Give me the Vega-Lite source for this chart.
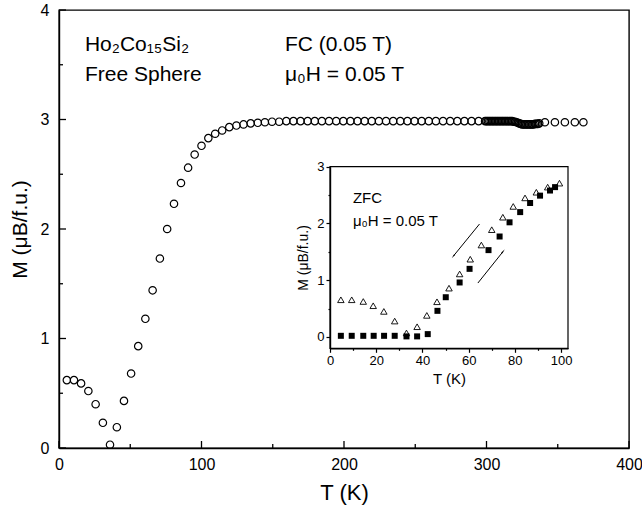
{
  "$schema": "https://vega.github.io/schema/vega-lite/v6.json",
  "width": 570,
  "height": 438,
  "autosize": {"type": "none"},
  "padding": {"left": 59, "top": 10, "right": 13, "bottom": 66},
  "config": {
    "font": "Liberation Sans",
    "view": {"stroke": "black", "strokeWidth": 1.4},
    "axis": {"grid": false, "domainColor": "black", "domainWidth": 1.4, "tickColor": "black", "tickWidth": 1.2, "labelColor": "black", "titleColor": "black", "titleFontWeight": "normal", "labelFlush": false, "labelOverlap": false, "format": "d"}
  },
  "datasets": {
    "fc": [
      {"T": 5.5, "M": 0.62}, {"T": 10.5, "M": 0.62}, {"T": 15.5, "M": 0.59}, {"T": 20.6, "M": 0.52},
      {"T": 25.7, "M": 0.40}, {"T": 30.8, "M": 0.23}, {"T": 35.8, "M": 0.03}, {"T": 40.6, "M": 0.19},
      {"T": 45.6, "M": 0.43}, {"T": 50.6, "M": 0.68}, {"T": 55.6, "M": 0.93}, {"T": 60.6, "M": 1.18},
      {"T": 65.7, "M": 1.44}, {"T": 70.8, "M": 1.73}, {"T": 75.9, "M": 2.00}, {"T": 80.7, "M": 2.23},
      {"T": 85.6, "M": 2.42}, {"T": 90.6, "M": 2.56}, {"T": 95.2, "M": 2.68}, {"T": 100.0, "M": 2.76},
      {"T": 104.8, "M": 2.83}, {"T": 109.6, "M": 2.87}, {"T": 114.5, "M": 2.90}, {"T": 119.5, "M": 2.93},
      {"T": 124.5, "M": 2.945}, {"T": 129.5, "M": 2.955}, {"T": 134.5, "M": 2.965}, {"T": 139.5, "M": 2.97},
      {"T": 144.5, "M": 2.975}, {"T": 149.5, "M": 2.98}, {"T": 154.5, "M": 2.98}, {"T": 159.5, "M": 2.985},
      {"T": 164.5, "M": 2.985}, {"T": 169.5, "M": 2.985}, {"T": 174.5, "M": 2.985}, {"T": 179.5, "M": 2.985},
      {"T": 184.5, "M": 2.985}, {"T": 189.5, "M": 2.985}, {"T": 194.5, "M": 2.985}, {"T": 199.5, "M": 2.985},
      {"T": 204.5, "M": 2.985}, {"T": 209.5, "M": 2.985}, {"T": 214.5, "M": 2.985}, {"T": 219.5, "M": 2.985},
      {"T": 224.5, "M": 2.985}, {"T": 229.5, "M": 2.985}, {"T": 234.5, "M": 2.985}, {"T": 239.5, "M": 2.985},
      {"T": 244.5, "M": 2.985}, {"T": 249.5, "M": 2.985}, {"T": 254.5, "M": 2.985}, {"T": 259.5, "M": 2.985},
      {"T": 264.5, "M": 2.985}, {"T": 269.5, "M": 2.985}, {"T": 274.5, "M": 2.985}, {"T": 279.5, "M": 2.985},
      {"T": 284.5, "M": 2.985}, {"T": 289.5, "M": 2.985}, {"T": 294.5, "M": 2.985},
      {"T": 299, "M": 2.985}, {"T": 300, "M": 2.985}, {"T": 301, "M": 2.985}, {"T": 302, "M": 2.985},
      {"T": 303, "M": 2.985}, {"T": 304, "M": 2.985}, {"T": 305, "M": 2.985}, {"T": 306, "M": 2.985},
      {"T": 307, "M": 2.985}, {"T": 308, "M": 2.985}, {"T": 309, "M": 2.985}, {"T": 310, "M": 2.985},
      {"T": 311, "M": 2.985}, {"T": 312, "M": 2.985}, {"T": 313, "M": 2.985}, {"T": 314, "M": 2.985},
      {"T": 315, "M": 2.985}, {"T": 316, "M": 2.985}, {"T": 317, "M": 2.985}, {"T": 318, "M": 2.985},
      {"T": 319, "M": 2.98}, {"T": 320, "M": 2.98}, {"T": 321, "M": 2.975}, {"T": 322, "M": 2.97},
      {"T": 323, "M": 2.965}, {"T": 324, "M": 2.96}, {"T": 325, "M": 2.955}, {"T": 326, "M": 2.955},
      {"T": 327, "M": 2.955}, {"T": 328, "M": 2.955}, {"T": 329, "M": 2.955}, {"T": 330, "M": 2.955},
      {"T": 331, "M": 2.955}, {"T": 332, "M": 2.955}, {"T": 333, "M": 2.955}, {"T": 334, "M": 2.96},
      {"T": 335, "M": 2.96}, {"T": 336, "M": 2.96}, {"T": 337, "M": 2.965},
      {"T": 341, "M": 2.975}, {"T": 348, "M": 2.975}, {"T": 355, "M": 2.975}, {"T": 362, "M": 2.975},
      {"T": 368, "M": 2.975}
    ],
    "xticks": [
      {"T": 0, "kind": "major"}, {"T": 50, "kind": "minor"}, {"T": 100, "kind": "major"}, {"T": 150, "kind": "minor"},
      {"T": 200, "kind": "major"}, {"T": 250, "kind": "minor"}, {"T": 300, "kind": "major"}, {"T": 350, "kind": "minor"},
      {"T": 400, "kind": "major"}
    ],
    "yticks": [
      {"M": 0, "kind": "major"}, {"M": 0.5, "kind": "minor"}, {"M": 1, "kind": "major"}, {"M": 1.5, "kind": "minor"},
      {"M": 2, "kind": "major"}, {"M": 2.5, "kind": "minor"}, {"M": 3, "kind": "major"}, {"M": 3.5, "kind": "minor"},
      {"M": 4, "kind": "major"}
    ],
    "notes": [
      {"T": 18.2, "M": 3.68, "text": "Ho₂Co₁₅Si₂"},
      {"T": 18.2, "M": 3.41, "text": "Free Sphere"},
      {"T": 158.6, "M": 3.68, "text": "FC (0.05 T)"},
      {"T": 158.6, "M": 3.41, "text": "μ₀H = 0.05 T"}
    ],
    "inset": [
      {"mode": "ZFC", "T": 4.7, "M": 0.02}, {"mode": "ZFC", "T": 9.4, "M": 0.02}, {"mode": "ZFC", "T": 14.4, "M": 0.02},
      {"mode": "ZFC", "T": 18.9, "M": 0.02}, {"mode": "ZFC", "T": 23.4, "M": 0.02}, {"mode": "ZFC", "T": 28.0, "M": 0.02},
      {"mode": "ZFC", "T": 33.1, "M": 0.01}, {"mode": "ZFC", "T": 37.7, "M": 0.01}, {"mode": "ZFC", "T": 42.3, "M": 0.05},
      {"mode": "ZFC", "T": 46.5, "M": 0.46}, {"mode": "ZFC", "T": 50.1, "M": 0.70}, {"mode": "ZFC", "T": 56.1, "M": 0.96},
      {"mode": "ZFC", "T": 60.4, "M": 1.20}, {"mode": "ZFC", "T": 68.6, "M": 1.53}, {"mode": "ZFC", "T": 73.4, "M": 1.77},
      {"mode": "ZFC", "T": 77.7, "M": 2.02}, {"mode": "ZFC", "T": 82.3, "M": 2.20}, {"mode": "ZFC", "T": 86.6, "M": 2.36},
      {"mode": "ZFC", "T": 90.9, "M": 2.49}, {"mode": "ZFC", "T": 95.2, "M": 2.58}, {"mode": "ZFC", "T": 97.4, "M": 2.64},
      {"mode": "FC", "T": 4.7, "M": 0.655}, {"mode": "FC", "T": 9.4, "M": 0.655}, {"mode": "FC", "T": 14.4, "M": 0.625},
      {"mode": "FC", "T": 18.7, "M": 0.55}, {"mode": "FC", "T": 23.3, "M": 0.45}, {"mode": "FC", "T": 28.0, "M": 0.28},
      {"mode": "FC", "T": 33.1, "M": 0.07}, {"mode": "FC", "T": 37.7, "M": 0.18}, {"mode": "FC", "T": 41.9, "M": 0.38},
      {"mode": "FC", "T": 46.3, "M": 0.62}, {"mode": "FC", "T": 51.5, "M": 0.86}, {"mode": "FC", "T": 56.1, "M": 1.11},
      {"mode": "FC", "T": 60.7, "M": 1.37}, {"mode": "FC", "T": 65.5, "M": 1.62}, {"mode": "FC", "T": 70.0, "M": 1.89},
      {"mode": "FC", "T": 74.8, "M": 2.11}, {"mode": "FC", "T": 79.3, "M": 2.30}, {"mode": "FC", "T": 84.4, "M": 2.45},
      {"mode": "FC", "T": 89.3, "M": 2.55}, {"mode": "FC", "T": 94.2, "M": 2.64}, {"mode": "FC", "T": 99.3, "M": 2.71}
    ],
    "arrows": [
      {"id": "cooling", "T1": 64.7, "M1": 1.99, "T2": 53.5, "M2": 1.43},
      {"id": "warming", "T1": 64.0, "M1": 0.95, "T2": 74.8, "M2": 1.50}
    ],
    "insetNotes": [
      {"T": 9.9, "M": 2.44, "text": "ZFC"},
      {"T": 9.9, "M": 2.05, "text": "μ₀H = 0.05 T"}
    ],
    "frame": [{"T0": 0, "T1": 103, "M0": -0.2, "M1": 3}]
  },
  "layer": [
    {
      "layer": [
        {
          "data": {"name": "fc"},
          "mark": {"type": "point", "shape": "circle", "filled": false, "stroke": "black", "strokeWidth": 1.2, "size": 55, "opacity": 1},
          "encoding": {
            "x": {"field": "T", "type": "quantitative", "scale": {"domain": [0, 400], "nice": false, "zero": false},
              "axis": {"orient": "bottom", "zindex": 1, "values": [0, 100, 200, 300, 400], "ticks": false,
                "labelPadding": 8, "labelFontSize": 16, "title": "T (K)", "titleFontSize": 22, "titlePadding": 10}},
            "y": {"field": "M", "type": "quantitative", "scale": {"domain": [0, 4], "nice": false, "zero": false},
              "axis": {"orient": "left", "zindex": 1, "values": [0, 1, 2, 3, 4], "ticks": false,
                "labelPadding": 10, "labelFontSize": 16, "title": "M (μB/f.u.)", "titleFontSize": 21, "titlePadding": 10}}
          }
        },
        {
          "data": {"name": "xticks"},
          "transform": [{"filter": "datum.kind === 'major'"}],
          "mark": {"type": "tick", "orient": "vertical", "size": 7, "thickness": 1.3, "yOffset": -3.5, "color": "black", "opacity": 1},
          "encoding": {"x": {"field": "T", "type": "quantitative"}, "y": {"datum": 0, "type": "quantitative"}}
        },
        {
          "data": {"name": "xticks"},
          "transform": [{"filter": "datum.kind === 'minor'"}],
          "mark": {"type": "tick", "orient": "vertical", "size": 4, "thickness": 1.3, "yOffset": -2, "color": "black", "opacity": 1},
          "encoding": {"x": {"field": "T", "type": "quantitative"}, "y": {"datum": 0, "type": "quantitative"}}
        },
        {
          "data": {"name": "yticks"},
          "transform": [{"filter": "datum.kind === 'major'"}],
          "mark": {"type": "tick", "orient": "horizontal", "size": 7, "thickness": 1.3, "xOffset": 3.5, "color": "black", "opacity": 1},
          "encoding": {"y": {"field": "M", "type": "quantitative"}, "x": {"datum": 0, "type": "quantitative"}}
        },
        {
          "data": {"name": "yticks"},
          "transform": [{"filter": "datum.kind === 'minor'"}],
          "mark": {"type": "tick", "orient": "horizontal", "size": 4, "thickness": 1.3, "xOffset": 2, "color": "black", "opacity": 1},
          "encoding": {"y": {"field": "M", "type": "quantitative"}, "x": {"datum": 0, "type": "quantitative"}}
        },
        {
          "data": {"name": "notes"},
          "mark": {"type": "text", "align": "left", "baseline": "middle", "fontSize": 21, "color": "black"},
          "encoding": {
            "x": {"field": "T", "type": "quantitative"},
            "y": {"field": "M", "type": "quantitative"},
            "text": {"field": "text"}
          }
        }
      ]
    },
    {
      "layer": [
        {
          "data": {"name": "frame"},
          "mark": {"type": "rect", "filled": false, "stroke": "black", "strokeWidth": 1.2},
          "encoding": {
            "x": {"field": "T0", "type": "quantitative", "scale": {"domain": [0, 103], "range": [271, 509], "nice": false, "zero": false},
              "axis": {"orient": "bottom", "offset": -99.7, "zindex": 1, "values": [0, 10, 20, 30, 40, 50, 60, 70, 80, 90, 100],
                "labelExpr": "datum.value % 20 === 0 ? datum.label : ''",
                "tickSize": {"condition": {"test": "datum.value % 20 === 0", "value": 4}, "value": 2},
                "labelPadding": 2, "labelFontSize": 13, "title": "T (K)", "titleFontSize": 15, "titlePadding": 4}},
            "x2": {"field": "T1"},
            "y": {"field": "M0", "type": "quantitative", "scale": {"domain": [-0.2, 3], "range": [338.3, 156.7], "nice": false, "zero": false},
              "axis": {"orient": "left", "offset": -271, "zindex": 1, "values": [0, 0.5, 1, 1.5, 2, 2.5, 3],
                "labelExpr": "datum.value % 1 === 0 ? datum.label : ''",
                "tickSize": {"condition": {"test": "datum.value % 1 === 0", "value": 4}, "value": 2},
                "labelPadding": 2, "labelFontSize": 13, "title": "M (μB/f.u.)", "titleFontSize": 14, "titlePadding": 6}},
            "y2": {"field": "M1"}
          }
        },
        {
          "data": {"name": "inset"},
          "transform": [{"filter": "datum.mode === 'FC'"}],
          "mark": {"type": "point", "shape": "triangle-up", "filled": false, "stroke": "black", "strokeWidth": 0.9, "size": 42, "opacity": 1},
          "encoding": {
            "x": {"field": "T", "type": "quantitative"},
            "y": {"field": "M", "type": "quantitative"}
          }
        },
        {
          "data": {"name": "inset"},
          "transform": [{"filter": "datum.mode === 'ZFC'"}],
          "mark": {"type": "point", "shape": "square", "filled": true, "fill": "black", "size": 36, "opacity": 1},
          "encoding": {
            "x": {"field": "T", "type": "quantitative"},
            "y": {"field": "M", "type": "quantitative"}
          }
        },
        {
          "data": {"name": "arrows"},
          "mark": {"type": "rule", "color": "black", "strokeWidth": 1},
          "encoding": {
            "x": {"field": "T1", "type": "quantitative"},
            "y": {"field": "M1", "type": "quantitative"},
            "x2": {"field": "T2"},
            "y2": {"field": "M2"}
          }
        },
        {
          "data": {"name": "arrows"},
          "transform": [{"filter": "datum.id === 'cooling'"}],
          "mark": {"type": "point", "shape": "wedge", "filled": true, "fill": "black", "size": 30, "angle": 219, "opacity": 1},
          "encoding": {
            "x": {"field": "T2", "type": "quantitative"},
            "y": {"field": "M2", "type": "quantitative"}
          }
        },
        {
          "data": {"name": "arrows"},
          "transform": [{"filter": "datum.id === 'warming'"}],
          "mark": {"type": "point", "shape": "wedge", "filled": true, "fill": "black", "size": 30, "angle": 39, "opacity": 1},
          "encoding": {
            "x": {"field": "T2", "type": "quantitative"},
            "y": {"field": "M2", "type": "quantitative"}
          }
        },
        {
          "data": {"name": "insetNotes"},
          "mark": {"type": "text", "align": "left", "baseline": "middle", "fontSize": 15, "color": "black"},
          "encoding": {
            "x": {"field": "T", "type": "quantitative"},
            "y": {"field": "M", "type": "quantitative"},
            "text": {"field": "text"}
          }
        }
      ]
    }
  ],
  "resolve": {"scale": {"x": "independent", "y": "independent"}, "axis": {"x": "independent", "y": "independent"}}
}
